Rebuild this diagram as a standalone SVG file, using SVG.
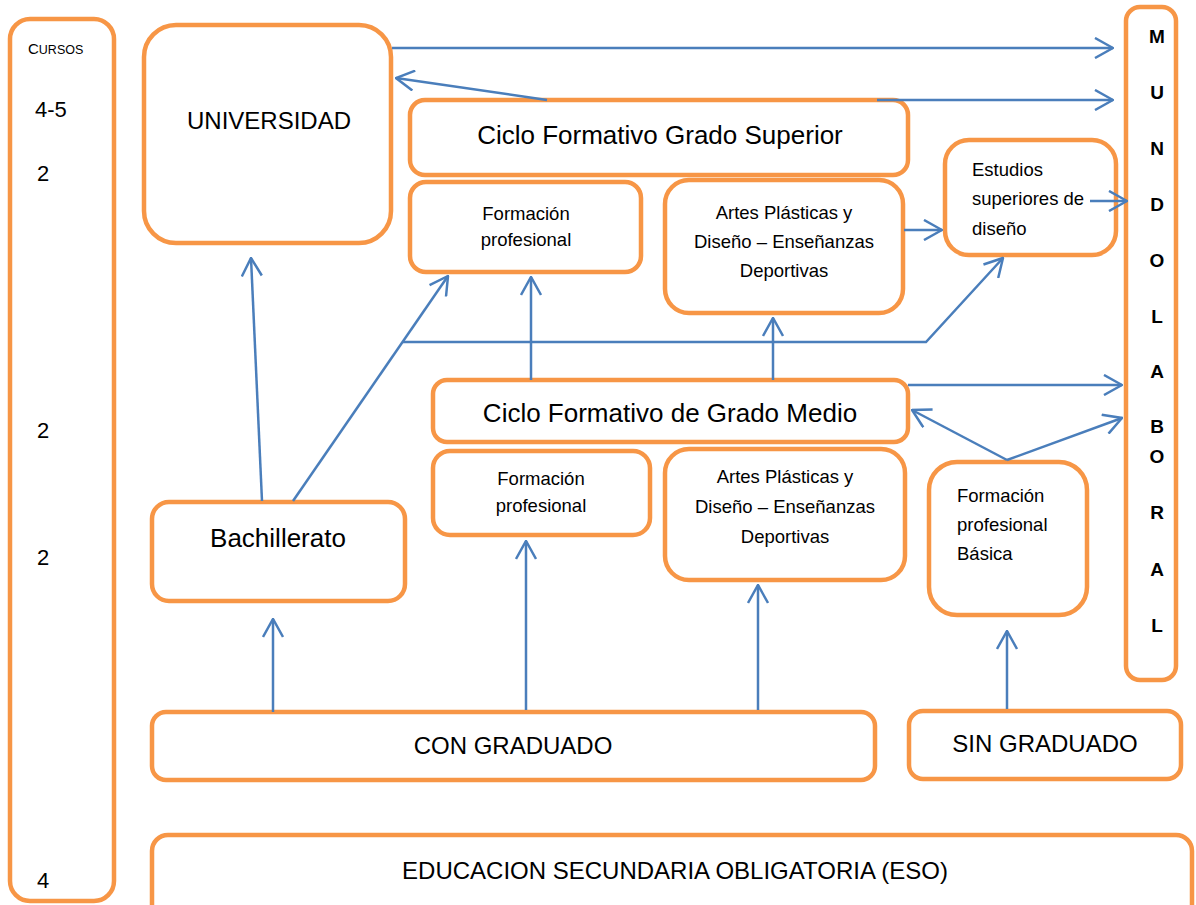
<svg xmlns="http://www.w3.org/2000/svg" width="1196" height="905" viewBox="0 0 1196 905">
<style>
.box{fill:#fff;stroke:#F79646;stroke-width:4.5}
.t{font-family:"Liberation Sans",Arial,sans-serif;fill:#000}
.c{text-anchor:middle}
.s{font-size:18.5px}
.big{font-size:26px}
.mid{font-size:24px}
.num{font-size:22px}
.m{font-size:19px;font-weight:bold;text-anchor:middle}
.conn{fill:none;stroke:#4A7EBB;stroke-width:2.5;marker-end:url(#arr)}
</style>
<defs>
<marker id="arr" viewBox="0 0 20 22" refX="19" refY="11" markerWidth="20" markerHeight="22" markerUnits="userSpaceOnUse" orient="auto">
<path d="M1,1 L19,11 L1,21" fill="none" stroke="#4A7EBB" stroke-width="2.5"/>
</marker>
</defs>
<rect width="1196" height="905" fill="#fff"/>

<g id="cursos">
<rect class="box" x="10" y="19" width="104" height="882" rx="20"/>
<text class="t" x="28" y="54"><tspan font-size="15">C</tspan><tspan font-size="12.5">URSOS</tspan></text>
<text class="t num" x="35" y="117">4-5</text>
<text class="t num" x="37" y="181">2</text>
<text class="t num" x="37" y="438">2</text>
<text class="t num" x="37" y="565">2</text>
<text class="t num" x="37" y="888">4</text>
</g>

<g id="universidad">
<rect class="box" x="144" y="25" width="247" height="218" rx="32"/>
<text class="t c mid" x="269" y="129">UNIVERSIDAD</text>
</g>

<g id="cfgs">
<rect class="box" x="410" y="100" width="498" height="75" rx="15"/>
<text class="t c big" x="660" y="144">Ciclo Formativo Grado Superior</text>
</g>

<g id="fp-sup">
<rect class="box" x="410" y="182" width="231" height="90" rx="16"/>
<text class="t c s" x="526" y="220">Formación</text>
<text class="t c s" x="526" y="246">profesional</text>
</g>

<g id="artes-sup">
<rect class="box" x="665" y="180" width="238" height="133" rx="24"/>
<text class="t c s" x="784" y="219">Artes Plásticas y</text>
<text class="t c s" x="784" y="248">Diseño – Enseñanzas</text>
<text class="t c s" x="784" y="277">Deportivas</text>
</g>

<g id="estudios">
<rect class="box" x="945" y="140" width="171" height="115" rx="24"/>
<text class="t s" x="972" y="176">Estudios</text>
<text class="t s" x="972" y="205">superiores de</text>
<text class="t s" x="972" y="235">diseño</text>
</g>

<g id="mundo">
<rect class="box" x="1126" y="7" width="50" height="673" rx="14"/>
<text class="t m" x="1157" y="43">M</text>
<text class="t m" x="1157" y="99">U</text>
<text class="t m" x="1157" y="155">N</text>
<text class="t m" x="1157" y="211">D</text>
<text class="t m" x="1157" y="267">O</text>
<text class="t m" x="1157" y="323">L</text>
<text class="t m" x="1157" y="378">A</text>
<text class="t m" x="1157" y="433">B</text>
<text class="t m" x="1157" y="463">O</text>
<text class="t m" x="1157" y="519">R</text>
<text class="t m" x="1157" y="576">A</text>
<text class="t m" x="1157" y="632">L</text>
</g>

<g id="cfgm">
<rect class="box" x="433" y="380" width="475" height="62" rx="14"/>
<text class="t c big" x="670" y="422">Ciclo Formativo de Grado Medio</text>
</g>

<g id="fp-med">
<rect class="box" x="433" y="451" width="217" height="84" rx="17"/>
<text class="t c s" x="541" y="485">Formación</text>
<text class="t c s" x="541" y="512">profesional</text>
</g>

<g id="artes-med">
<rect class="box" x="665" y="449" width="240" height="131" rx="24"/>
<text class="t c s" x="785" y="483">Artes Plásticas y</text>
<text class="t c s" x="785" y="513">Diseño – Enseñanzas</text>
<text class="t c s" x="785" y="543">Deportivas</text>
</g>

<g id="fpb">
<rect class="box" x="929" y="462" width="158" height="153" rx="28"/>
<text class="t s" x="957" y="502">Formación</text>
<text class="t s" x="957" y="531">profesional</text>
<text class="t s" x="957" y="560">Básica</text>
</g>

<g id="bachillerato">
<rect class="box" x="152" y="502" width="253" height="99" rx="17"/>
<text class="t c big" x="278" y="547">Bachillerato</text>
</g>

<g id="con-graduado">
<rect class="box" x="152" y="712" width="723" height="68" rx="14"/>
<text class="t c mid" x="513" y="754">CON GRADUADO</text>
</g>

<g id="sin-graduado">
<rect class="box" x="909" y="711" width="272" height="68" rx="14"/>
<text class="t c mid" x="1045" y="752">SIN GRADUADO</text>
</g>

<g id="eso">
<rect class="box" x="152" y="835" width="1040" height="90" rx="16"/>
<text class="t c mid" x="675" y="879">EDUCACION SECUNDARIA OBLIGATORIA (ESO)</text>
</g>

<g id="connectors">
<path class="conn" d="M392,48 H1113"/>
<path class="conn" d="M547,100 L396,78"/>
<path class="conn" d="M877,100 H1113"/>
<path class="conn" d="M904,230 H942"/>
<path class="conn" d="M1090,201 H1127"/>
<path class="conn" d="M262,501 L251,258"/>
<path class="conn" d="M293,501 L448,276"/>
<path class="conn" d="M403,342 H926 L1003,258"/>
<path class="conn" d="M531,380 V277"/>
<path class="conn" d="M773,380 V318"/>
<path class="conn" d="M908,385 H1122"/>
<path class="conn" d="M1007,460 L912,410"/>
<path class="conn" d="M1007,460 L1122,418"/>
<path class="conn" d="M273,712 V619"/>
<path class="conn" d="M526,710 V541"/>
<path class="conn" d="M758,710 V585"/>
<path class="conn" d="M1007,709 V631"/>
</g>
</svg>
